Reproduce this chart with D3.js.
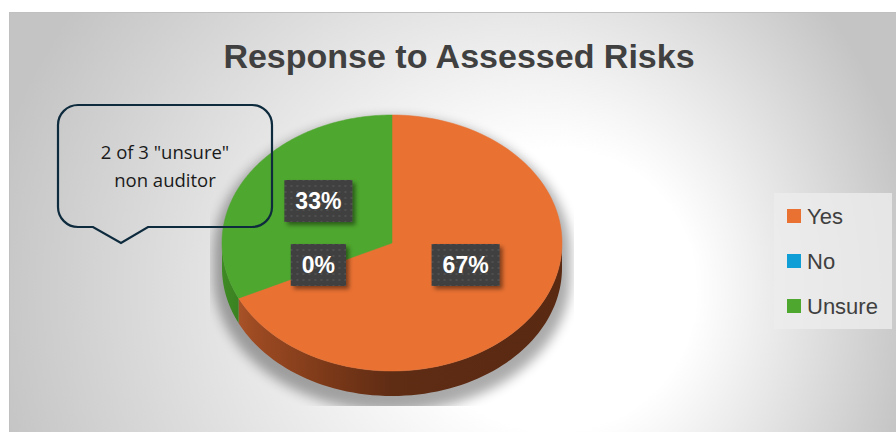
<!DOCTYPE html>
<html><head><meta charset="utf-8">
<script src="https://cdn.jsdelivr.net/npm/d3@7"></script>
<style>body{margin:0;background:#fff;} svg{display:block;}</style>
</head><body><svg id="c" width="896" height="432"></svg>
<script>
// ---- data ----
const categories = ["Yes", "No", "Unsure"];
const values = [6, 0, 3];
const colors = ["#E97132", "#0F9ED5", "#4EA72E"];
const title = "Response to Assessed Risks";
const calloutLines = ['2 of 3 "unsure"', 'non auditor'];

// ---- layout ----
const W = 896, H = 432;
const svg = d3.select("#c");
const defs = svg.append("defs");

// background gradient
const bg = defs.append("radialGradient").attr("id", "bg")
  .attr("gradientUnits", "userSpaceOnUse")
  .attr("cx", 450).attr("cy", 290).attr("r", 470).attr("fx", 600).attr("fy", 290);
bg.append("stop").attr("offset", 0).attr("stop-color", "#ffffff");
bg.append("stop").attr("offset", 0.3).attr("stop-color", "#ffffff");
bg.append("stop").attr("offset", 1).attr("stop-color", "#c4c4c4");

svg.append("rect").attr("x", 0).attr("y", 0).attr("width", W).attr("height", H).attr("fill", "#fff");
svg.append("rect").attr("x", 9.5).attr("y", 12.5).attr("width", W + 20).attr("height", H + 20)
  .attr("fill", "url(#bg)").attr("stroke", "#c0c0c0").attr("stroke-width", 1);

// title
svg.append("text").attr("x", 459).attr("y", 68).attr("text-anchor", "middle")
  .attr("font-family", "Liberation Sans, Arial, sans-serif").attr("font-weight", "bold")
  .attr("font-size", 34).attr("fill", "#404040").text(title);

// ---- pie ----
const cx = 392, cy = 243, rx = 170, ry = 128, depth = 25;
const pie = d3.pie().sort(null).value(d => d)(values);
const total = d3.sum(values);

// mild perspective warp of angles (front of the disc appears larger)
const warp = a => a + 0.09 * Math.sin(2 * a);
const pt = (a, dy = 0, k = 1) => [cx + k * rx * Math.sin(a), cy - k * ry * Math.cos(a) + dy];
const wpt = (a, dy = 0) => pt(warp(a), dy);

// shadow
const shClip = defs.append("clipPath").attr("id", "shclip");
shClip.append("rect").attr("x", 210).attr("y", 90).attr("width", 364).attr("height", 316);
const blur = defs.append("filter").attr("id", "blur").attr("x", "-20%").attr("y", "-20%").attr("width", "140%").attr("height", "140%");
blur.append("feGaussianBlur").attr("stdDeviation", 6);

function outlinePath(k, dy) {
  const p = d3.path();
  const N = 120;
  for (let i = 0; i <= N; i++) {
    const a = -Math.PI / 2 + Math.PI * i / N;
    const [x, y] = pt(a, dy, k);
    i === 0 ? p.moveTo(x, y) : p.lineTo(x, y);
  }
  for (let i = 0; i <= N; i++) {
    const a = Math.PI / 2 + Math.PI * i / N;
    const [x, y] = pt(a, dy + depth, k);
    p.lineTo(x, y);
  }
  p.closePath();
  return p.toString();
}
svg.append("g").attr("clip-path", "url(#shclip)")
  .append("path").attr("d", outlinePath(1.05, 9))
  .attr("fill", "#000").attr("opacity", 0.33).attr("filter", "url(#blur)");

// side gradients
function sideGrad(id, stops) {
  const g = defs.append("linearGradient").attr("id", id).attr("gradientUnits", "userSpaceOnUse")
    .attr("x1", cx - rx).attr("x2", cx + rx).attr("y1", 0).attr("y2", 0);
  stops.forEach(([o, c]) => g.append("stop").attr("offset", o).attr("stop-color", c));
}
sideGrad("side0", [[0, "#b3592c"], [0.1, "#9c4a22"], [0.32, "#7a3818"], [0.5, "#5f2c14"], [1, "#5a2912"]]);
sideGrad("side1", [[0, "#0a6f96"], [1, "#053a50"]]);
sideGrad("side2", [[0, "#3f8a24"], [0.1, "#367a1f"], [1, "#244f14"]]);

const sides = svg.append("g");
pie.forEach((d, i) => {
  const a0 = Math.max(d.startAngle, Math.PI / 2), a1 = Math.min(d.endAngle, 3 * Math.PI / 2);
  if (a1 <= a0) return;
  const p = d3.path(), N = 80;
  for (let j = 0; j <= N; j++) {
    const [x, y] = wpt(a0 + (a1 - a0) * j / N);
    j === 0 ? p.moveTo(x, y) : p.lineTo(x, y);
  }
  for (let j = N; j >= 0; j--) {
    const [x, y] = wpt(a0 + (a1 - a0) * j / N, depth);
    p.lineTo(x, y);
  }
  p.closePath();
  sides.append("path").attr("d", p.toString()).attr("fill", `url(#side${i})`);
});

// top faces
const tops = svg.append("g");
pie.forEach((d, i) => {
  if (d.endAngle <= d.startAngle) return;
  const p = d3.path(), N = 160;
  p.moveTo(cx, cy);
  for (let j = 0; j <= N; j++) {
    const [x, y] = wpt(d.startAngle + (d.endAngle - d.startAngle) * j / N);
    p.lineTo(x, y);
  }
  p.closePath();
  tops.append("path").attr("d", p.toString()).attr("fill", colors[i])
    .attr("stroke", colors[i]).attr("stroke-width", 0.5);
});

// data labels
const pat = defs.append("pattern").attr("id", "dots").attr("width", 6).attr("height", 6)
  .attr("patternUnits", "userSpaceOnUse");
pat.append("rect").attr("width", 6).attr("height", 6).attr("fill", "#404040");
pat.append("circle").attr("cx", 3).attr("cy", 3).attr("r", 0.9).attr("fill", "#575757");
const ds = defs.append("filter").attr("id", "ds").attr("x", "-30%").attr("y", "-30%").attr("width", "160%").attr("height", "160%");
ds.append("feDropShadow").attr("dx", 3).attr("dy", 3).attr("stdDeviation", 2)
  .attr("flood-color", "#000").attr("flood-opacity", 0.45);

const fmt = v => Math.round(v / total * 100) + "%";
pie.forEach((d, i) => {
  const mid = (d.startAngle + d.endAngle) / 2;
  const [x, y] = pt(mid, -10, 0.5);
  const g = svg.append("g").attr("transform", `translate(${x},${y})`);
  const t = g.append("text").attr("text-anchor", "middle").attr("dy", "0.36em")
    .attr("font-family", "Liberation Sans, Arial, sans-serif").attr("font-weight", "bold")
    .attr("font-size", 23).attr("fill", "#fff").text(fmt(d.value));
  const w = t.node().getComputedTextLength() + 22, h = 42;
  g.insert("rect", "text").attr("x", -w / 2).attr("y", -h / 2).attr("width", w).attr("height", h)
    .attr("fill", "url(#dots)").attr("filter", "url(#ds)");
});

// ---- callout ----
{
  const x0 = 58, y0 = 105, x1 = 272, y1 = 227, r = 20;
  const p = d3.path();
  p.moveTo(x0 + r, y0);
  p.lineTo(x1 - r, y0);
  p.arcTo(x1, y0, x1, y0 + r, r);
  p.lineTo(x1, y1 - r);
  p.arcTo(x1, y1, x1 - r, y1, r);
  p.lineTo(148, y1);
  p.lineTo(121, 243);
  p.lineTo(93, y1);
  p.lineTo(x0 + r, y1);
  p.arcTo(x0, y1, x0, y1 - r, r);
  p.lineTo(x0, y0 + r);
  p.arcTo(x0, y0, x0 + r, y0, r);
  p.closePath();
  svg.append("path").attr("d", p.toString()).attr("fill", "none")
    .attr("stroke", "#0e2b3e").attr("stroke-width", 2.2);
  svg.append("g").selectAll("text").data(calloutLines).join("text")
    .attr("x", 165).attr("y", (d, i) => 159 + i * 28).attr("text-anchor", "middle")
    .attr("font-family", "Open Sans, sans-serif").attr("font-size", 18.5).attr("fill", "#1a1a1a")
    .text(d => d);
}

// ---- legend ----
{
  const lg = svg.append("g");
  lg.append("rect").attr("x", 774).attr("y", 193).attr("width", 118).attr("height", 136)
    .attr("fill", "#ececec").attr("opacity", 0.8);
  const items = lg.selectAll("g.it").data(categories).join("g").attr("class", "it")
    .attr("transform", (d, i) => `translate(787,${209 + i * 45})`);
  items.append("rect").attr("width", 14).attr("height", 14).attr("fill", (d, i) => colors[i]);
  items.append("text").attr("x", 20).attr("y", 14.5)
    .attr("font-family", "Liberation Sans, Arial, sans-serif").attr("font-size", 22)
    .attr("fill", "#404040").text(d => d);
}
</script></body></html>
